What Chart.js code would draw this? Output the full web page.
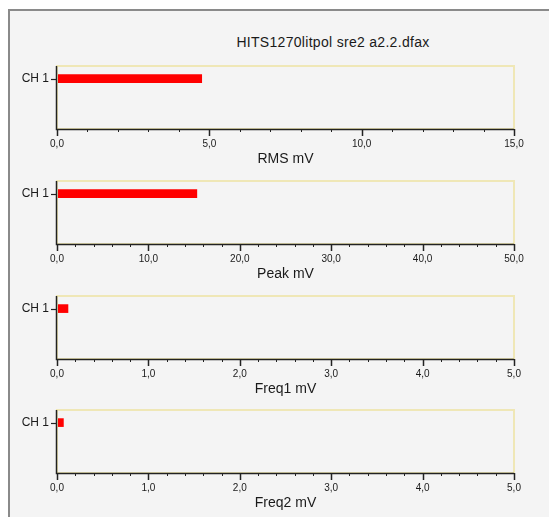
<!DOCTYPE html>
<html>
<head>
<meta charset="utf-8">
<script src="https://cdn.jsdelivr.net/npm/chart.js@4/dist/chart.umd.min.js"></script>
<style>
  html, body { margin: 0; padding: 0; background: #ffffff; }
  body { width: 549px; height: 517px; position: relative; overflow: hidden; font-family: "Liberation Sans", Arial, sans-serif; }
  #frame { position: absolute; left: 8px; top: 9px; width: 600px; height: 600px; background: #f4f4f4; border-top: 2px solid #8a8a8a; border-left: 2px solid #8a8a8a; }
  #title { position: absolute; left: 183px; top: 34px; width: 300px; text-align: center; font-size: 14px; letter-spacing: 0.3px; line-height: 17px; color: #1a1a1a; }
  canvas { position: absolute; left: 0; }
</style>
</head>
<body>
<div id="frame"></div>
<div id="title">HITS1270litpol sre2 a2.2.dfax</div>
<canvas id="c0" width="549" height="114" style="top:55px"></canvas>
<canvas id="c1" width="549" height="114" style="top:170px"></canvas>
<canvas id="c2" width="549" height="114" style="top:285px"></canvas>
<canvas id="c3" width="549" height="114" style="top:399px"></canvas>
<script>
// ---- data ----
const categories = ['CH 1'];
const rmsValues = [4.75];
const peakValues = [15.3];
const freq1Values = [0.12];
const freq2Values = [0.07];
const axisTitles = ['RMS mV', 'Peak mV', 'Freq1 mV', 'Freq2 mV'];
const axisMax = [15, 50, 5, 5];
const majorStep = [5, 10, 1, 1];
const minorStep = [1, 2, 0.2, 0.2];
const seriesList = [rmsValues, peakValues, freq1Values, freq2Values];

function isMajor(v, step) {
  const r = v / step;
  return Math.abs(r - Math.round(r)) < 1e-6;
}

const framePlugin = {
  id: 'framePlugin',
  afterDraw(chart, args, opts) {
    const ctx = chart.ctx;
    const a = chart.chartArea;
    const xs = chart.scales.x;
    const ys = chart.scales.y;
    ctx.save();
    // pale yellow frame
    ctx.strokeStyle = '#efe7b6';
    ctx.lineWidth = 2;
    ctx.strokeRect(a.left, a.top, a.right - a.left, a.bottom - a.top);
    // dark axis lines
    ctx.strokeStyle = '#222222';
    ctx.lineWidth = 1.5;
    ctx.beginPath();
    ctx.moveTo(a.left - 0.5, a.top);
    ctx.lineTo(a.left - 0.5, a.bottom + 0.5);
    ctx.lineTo(a.right, a.bottom + 0.5);
    ctx.stroke();
    // x ticks: major longer, minor short
    xs.ticks.forEach((t, i) => {
      const x = Math.round(xs.getPixelForTick(i)) + 0.5;
      const major = isMajor(t.value, opts.major);
      ctx.lineWidth = major ? 1.5 : 1;
      ctx.beginPath();
      ctx.moveTo(x, a.bottom);
      ctx.lineTo(x, a.bottom + (major ? 7 : 3));
      ctx.stroke();
    });
    // y ticks
    ys.ticks.forEach((t, i) => {
      const y = Math.round(ys.getPixelForTick(i)) + 0.5;
      ctx.lineWidth = 1.2;
      ctx.beginPath();
      ctx.moveTo(a.left - 6, y);
      ctx.lineTo(a.left, y);
      ctx.stroke();
    });
    ctx.restore();
  }
};

seriesList.forEach((vals, k) => {
  const data = categories.map((c, i) => ({ x: vals[i], y: i + 1 }));
  new Chart(document.getElementById('c' + k), {
    type: 'bar',
    data: {
      datasets: [{
        data: data,
        backgroundColor: '#ff0000',
        borderWidth: 0,
        barThickness: 8
      }]
    },
    plugins: [framePlugin],
    options: {
      indexAxis: 'y',
      responsive: false,
      animation: false,
      devicePixelRatio: 1,
      layout: { padding: { left: 0, right: 35, top: 11, bottom: 0 } },
      plugins: {
        legend: { display: false },
        tooltip: { enabled: false },
        title: { display: false },
        framePlugin: { major: majorStep[k] }
      },
      scales: {
        x: {
          type: 'linear',
          min: 0,
          max: axisMax[k],
          offset: false,
          grid: { display: true, offset: false, drawOnChartArea: false, drawTicks: true, tickLength: 6, color: 'rgba(0,0,0,0)' },
          border: { display: false },
          ticks: {
            stepSize: minorStep[k],
            autoSkip: false,
            maxRotation: 0,
            padding: 3,
            color: '#1a1a1a',
            font: { family: '"Liberation Sans", Arial, sans-serif', size: 10 },
            callback: (v) => isMajor(v, majorStep[k]) ? v.toFixed(1).replace('.', ',') : ''
          },
          title: {
            display: true,
            text: axisTitles[k],
            color: '#1a1a1a',
            font: { family: '"Liberation Sans", Arial, sans-serif', size: 14 },
            padding: { top: 0, bottom: 1 }
          },
          afterFit: (s) => { s.height = 40; }
        },
        y: {
          type: 'linear',
          reverse: true,
          min: 0,
          max: 5,
          offset: false,
          grid: { display: true, offset: false, drawOnChartArea: false, drawTicks: true, tickLength: 6, color: 'rgba(0,0,0,0)' },
          border: { display: false },
          afterBuildTicks: (s) => { s.ticks = categories.map((c, i) => ({ value: i + 1 })); },
          ticks: {
            padding: 2,
            color: '#1a1a1a',
            font: { family: '"Liberation Sans", Arial, sans-serif', size: 12 },
            callback: (v) => categories[Math.round(v) - 1] || ''
          },
          afterFit: (s) => { s.width = 57; }
        }
      }
    }
  });
});
</script>
</body>
</html>
